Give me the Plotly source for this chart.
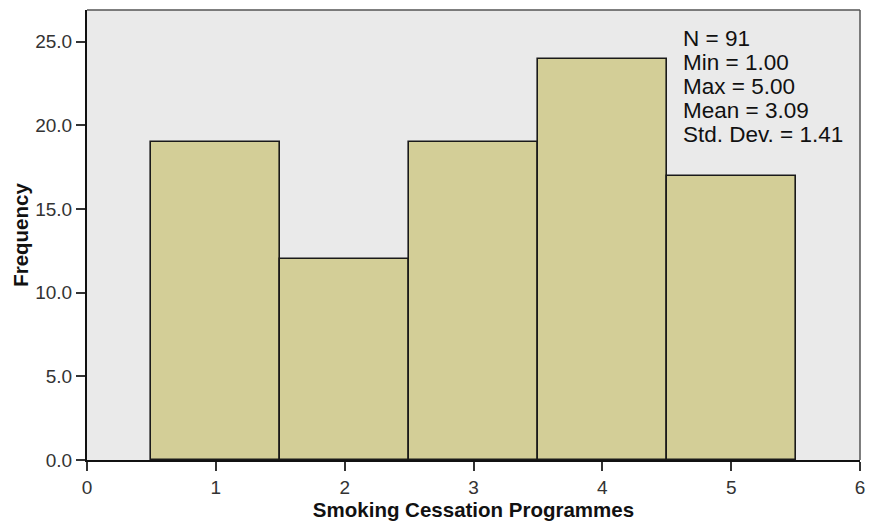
import numpy as np
import plotly.graph_objects as go

# Responses to the item, coded 1-5, and how many respondents gave each
categories = [1, 2, 3, 4, 5]
frequencies = [19, 12, 19, 24, 17]
x_ticks = [0, 1, 2, 3, 4, 5, 6]
y_ticks = [0, 5, 10, 15, 20, 25]

vals = np.repeat(categories, frequencies)
stats_lines = [
    f"N = {len(vals)}",
    f"Min = {vals.min():.2f}",
    f"Max = {vals.max():.2f}",
    f"Mean = {vals.mean():.2f}",
    f"Std. Dev. = {vals.std(ddof=1):.2f}",
]

FONT = "Liberation Sans, Arial, sans-serif"

fig = go.Figure()
fig.add_trace(go.Bar(
    x=categories,
    y=frequencies,
    width=1.0,
    marker=dict(color="#D3CE97", line=dict(color="#1a1a1a", width=1.6)),
    hoverinfo="x+y",
))

fig.update_layout(
    width=875, height=529,
    margin=dict(l=87, r=10, t=10, b=69),
    paper_bgcolor="white",
    plot_bgcolor="#EAEAEA",
    showlegend=False,
    bargap=0,
    font=dict(family=FONT, size=14, color="#222"),
    xaxis=dict(
        range=[0, 6], tickvals=x_ticks, ticktext=[str(t) for t in x_ticks],
        showgrid=False, zeroline=False,
        showline=True, linecolor="#111", linewidth=2,
        ticks="outside", ticklen=9, tickwidth=2, tickcolor="#333",
        tickfont=dict(size=19, color="#333"),
        title=dict(text="<b>Smoking Cessation Programmes</b>",
                   font=dict(size=20.5, color="#111"), standoff=0),
    ),
    yaxis=dict(
        range=[0, 26.9], tickvals=y_ticks, ticktext=[f"{t:.1f}" for t in y_ticks],
        showgrid=False, zeroline=False,
        showline=True, linecolor="#111", linewidth=2,
        ticks="outside", ticklen=9, tickwidth=2, tickcolor="#333",
        tickfont=dict(size=19, color="#333"),
        title=dict(text="<b>Frequency</b>",
                   font=dict(size=20.5, color="#111"), standoff=1),
    ),
)

# frame on the top and right of the plotting area
fig.add_shape(type="line", xref="paper", yref="paper", x0=0, x1=1, y0=1, y1=1,
              line=dict(color="#555", width=1.5))
fig.add_shape(type="line", xref="paper", yref="paper", x0=1, x1=1, y0=0, y1=1,
              line=dict(color="#555", width=1.5))

# summary statistics box, one annotation per line for tight spacing
plot_top, plot_h = 10, 450
for i, line in enumerate(stats_lines):
    py = 39 + 23.8 * i
    fig.add_annotation(
        text=line, xref="x", yref="paper", x=4.61, y=(plot_top + plot_h - py) / plot_h,
        xanchor="left", yanchor="middle", align="left", showarrow=False,
        font=dict(family=FONT, size=22.5, color="#111"),
    )

fig.write_html("out.html")
